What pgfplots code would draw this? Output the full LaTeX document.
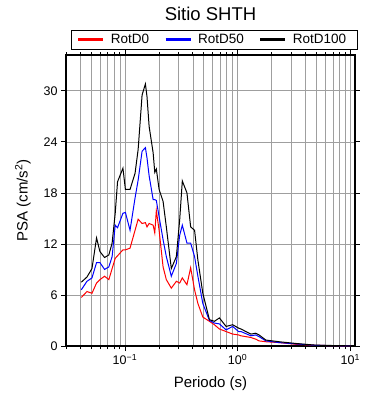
\documentclass[border=0pt]{standalone}
\usepackage{fontspec}
\setmainfont{Liberation Sans}
\usepackage{pgfplots}
\usepackage{pgfplotstable}
\pgfplotsset{compat=1.18}
\pgfplotstableread{
T      d0    d50   d100
0.041  5.7   6.6   7.5
0.046  6.4   7.6   8.1
0.051  6.2   8.0   9.1
0.056  7.4   9.8   12.7
0.060  7.8   9.8   11.1
0.066  8.2   9.0   10.4
0.072  7.8   9.3   10.7
0.077  9.1   10.5  12.1
0.082  10.3  14.2  15.6
0.086  10.6  13.9  19.3
0.096  11.3  15.6  20.9
0.101  11.3  15.7  18.4
0.111  11.5  13.6  18.4
0.123  13.6  17.4  20.3
0.131  14.9  19.5  23.1
0.142  14.4  22.9  29.5
0.152  14.5  23.3  30.8
0.157  14.0  22.1  29.3
0.164  14.4  20.0  25.8
0.178  14.2  17.2  22.7
0.184  13.3  17.2  20.4
0.190  15.9  17.1  20.8
0.201  13.6  15.2  18.4
0.218  9.3   12.5  17.0
0.233  7.8   10.5  14.0
0.258  6.8   8.2   9.1
0.286  7.6   9.7   10.5
0.306  7.4   13.0  14.8
0.323  8.0   14.2  19.4
0.355  7.2   12.1  18.0
0.383  9.2   12.1  14.0
0.415  6.6   10.5  13.6
0.444  5.0   8.2   10.1
0.491  3.4   5.0   6.2
0.562  2.9   3.0   3.1
0.622  2.5   2.7   2.9
0.689  2.0   2.6   3.3
0.79   1.7   1.9   2.3
0.904  1.4   2.3   2.5
1.02   1.3   1.7   2.1
1.07   1.2   1.7   2.0
1.31   1.0   1.2   1.4
1.45   0.8   1.3   1.5
1.55   0.6   1.1   1.3
1.78   0.5   0.6   0.7
2.34   0.4   0.4   0.5
3.28   0.2   0.25  0.3
4.92   0.08  0.08  0.1
7.9    0.03  0.03  0.04
10     0.02  0.02  0.02
}\datatable
\begin{document}
\begin{tikzpicture}
\useasboundingbox (-66pt,-54pt) rectangle (324pt,346pt);
\begin{axis}[
  at={(0pt,0pt)}, anchor=south west,
  scale only axis, width=289pt, height=291pt,
  xmode=log, xmin=0.03, xmax=11, ymin=0, ymax=34.2,
  xtick={0.1,1,10},
  xticklabels={10\textsuperscript{−1},10\textsuperscript{0},10\textsuperscript{1}},
  minor xtick={0.03,0.04,0.05,0.06,0.07,0.08,0.09,0.2,0.3,0.4,0.5,0.6,0.7,0.8,0.9,2,3,4,5,6,7,8,9},
  ytick={0,6,...,30},
  grid=both,
  major grid style={draw=gray!75, line width=0.5pt},
  minor grid style={draw=gray!75, line width=0.5pt},
  tick align=outside, major tick length=5pt, minor tick length=3pt,
  tick style={black, line width=0.6pt},
  axis line style={line width=1.4pt},
  every axis plot/.append style={line width=1pt},
  /pgf/number format/assume math mode=true,
  ticklabel style={font=\fontsize{12.5}{14}\selectfont},
  xlabel={Periodo (s)},
  ylabel={PSA (cm/s\textsuperscript{2})},
  label style={font=\fontsize{15}{17}\selectfont},
  xlabel style={yshift=-5pt},
  ylabel style={yshift=6pt},
  title={Sitio SHTH},
  title style={font=\fontsize{18.5}{20}\selectfont, at={(0.5,1)}, anchor=south, yshift=25pt},
  legend columns=3,
  legend style={at={(0.5,1)}, anchor=south, yshift=5pt, xshift=4pt, draw=black, line width=1.3pt,
    font=\fontsize{13.5}{15}\selectfont, inner xsep=5pt, inner ysep=2pt,
    /tikz/every even column/.append style={column sep=9pt},
    nodes={inner xsep=6pt}},
  legend image code/.code={\draw[#1, line width=3pt] (0pt,0pt) -- (25pt,0pt);},
]
\addplot[red, line width=1pt] table[x=T, y=d0] {\datatable};
\addlegendentry{RotD0}
\addplot[blue, line width=1pt] table[x=T, y=d50] {\datatable};
\addlegendentry{RotD50}
\addplot[black, line width=1pt] table[x=T, y=d100] {\datatable};
\addlegendentry{RotD100}
\end{axis}
\end{tikzpicture}
\end{document}
